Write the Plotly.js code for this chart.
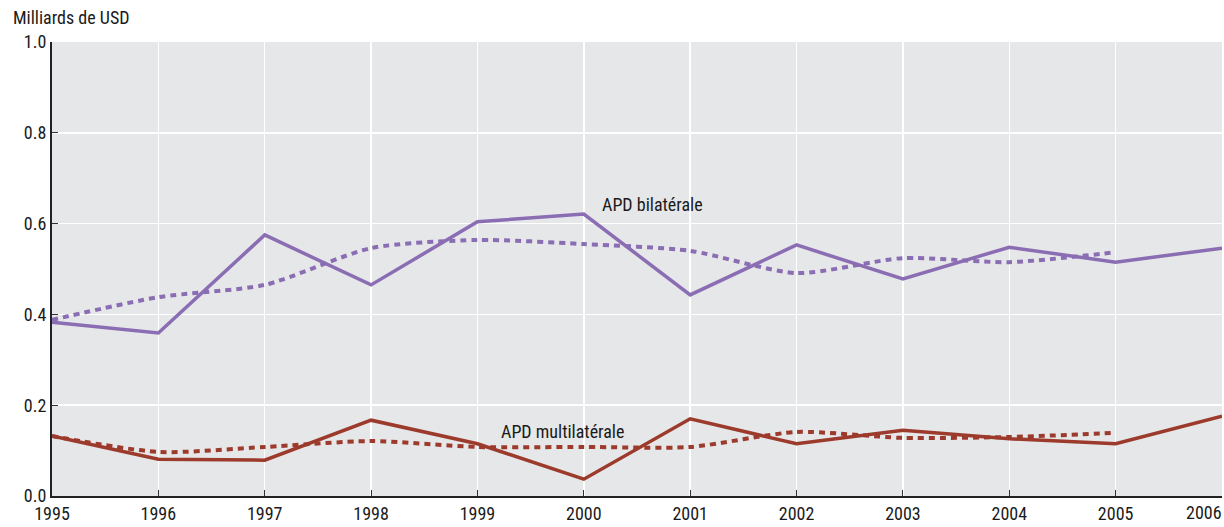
<!DOCTYPE html>
<html><head><meta charset="utf-8">
<script src="https://cdn.plot.ly/plotly-3.0.1.min.js"></script>
<style>body{margin:0;padding:0;background:#fff}#c{width:1224px;height:527px}</style>
</head><body><div id="c"></div>
<script>
const years = [1995,1996,1997,1998,1999,2000,2001,2002,2003,2004,2005,2006];
const bilateral = [0.383,0.359,0.575,0.465,0.604,0.621,0.443,0.553,0.478,0.548,0.515,0.546];
const bilateralTrend = [0.388,0.438,0.465,0.546,0.564,0.555,0.540,0.491,0.524,0.515,0.537];
const multilateral = [0.132,0.081,0.079,0.167,0.115,0.037,0.170,0.115,0.145,0.126,0.115,0.176];
const multilateralTrend = [0.132,0.097,0.108,0.121,0.108,0.108,0.108,0.141,0.128,0.130,0.139];
const yTicks = [0,0.2,0.4,0.6,0.8,1.0];
const yTickText = ['0.0','0.2','0.4','0.6','0.8','1.0'];
const labels = {bil:'APD bilatérale', multi:'APD multilatérale', unit:'Milliards de USD'};

const purple = '#8a6db3', red = '#9c3a2c';
const trendYears = years.slice(0, 11);
const lastYear = years[years.length - 1];
const xTickText = years.map((y, i) => i === years.length - 1 ? '' : String(y));
const data = [
  {x: trendYears, y: bilateralTrend, mode:'lines', line:{color:purple, width:4, dash:'6px,5px', shape:'spline', smoothing:0.7}},
  {x: trendYears, y: multilateralTrend, mode:'lines', line:{color:red, width:4, dash:'6px,5px', shape:'spline', smoothing:0.7}},
  {x: years, y: bilateral, mode:'lines', line:{color:purple, width:3.5}},
  {x: years, y: multilateral, mode:'lines', line:{color:red, width:3.5}}
];
const font = {family:'"Liberation Sans Narrow","Roboto Condensed","Liberation Sans",sans-serif', size:18, color:'#1a1a1a'};
const layout = {
  width:1224, height:527,
  margin:{l:52, r:2, t:42, b:31},
  paper_bgcolor:'#fff', plot_bgcolor:'#e6e7e9',
  showlegend:false, font: font,
  xaxis:{range:[1995,2006], tickvals:years, ticktext:xTickText, ticks:'inside', ticklen:6, tickcolor:'#333',
    showgrid:true, gridcolor:'#fff', gridwidth:1.5, showline:true, linecolor:'#222', linewidth:2, zeroline:false,
    tickfont:{size:18}, fixedrange:true},
  yaxis:{range:[0,1.0], tickvals:yTicks, ticktext:yTickText, ticks:'inside', ticklen:6, tickcolor:'#333',
    showgrid:true, gridcolor:'#fff', gridwidth:1.5, showline:true, linecolor:'#222', linewidth:2, zeroline:false,
    tickfont:{size:18}, fixedrange:true},
  annotations:[
    {text:labels.unit, xref:'paper', yref:'paper', x:-0.035, y:1.0, yshift:25, xanchor:'left', yanchor:'middle', showarrow:false, font:{size:18}},
    {text:labels.bil, x:2000.65, y:0.641, xref:'x', yref:'y', showarrow:false, font:{size:18}},
    {text:labels.multi, x:1999.8, y:0.143, xref:'x', yref:'y', showarrow:false, font:{size:18}},
    {text:String(lastYear), x:lastYear, y:0, xref:'x', yref:'paper', xanchor:'right', yanchor:'top', xshift:2, yshift:-4, showarrow:false, font:{size:18}}
  ]
};
Plotly.newPlot('c', data, layout, {displayModeBar:false, staticPlot:true});
</script></body></html>
